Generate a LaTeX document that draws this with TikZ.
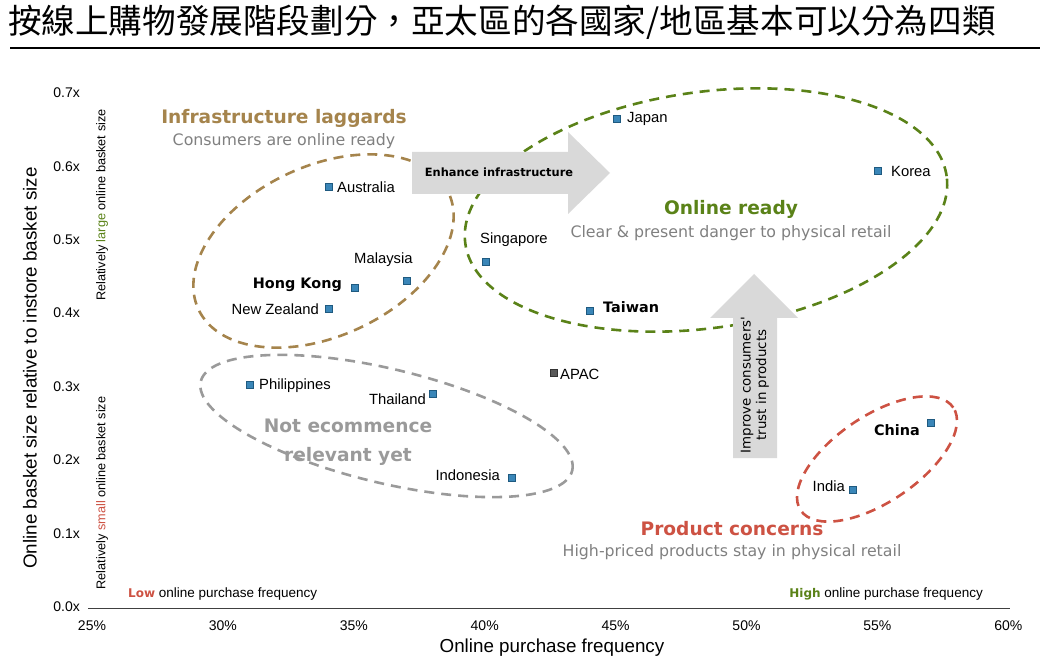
\documentclass[tikz,border=0pt]{standalone}
\usepackage{fontspec}
\setmainfont{Liberation Sans}
\newfontfamily\tah{DejaVu Sans}
\newfontfamily\cjk{Noto Sans CJK TC}
\definecolor{brownc}{HTML}{A5844C}
\definecolor{greenc}{HTML}{5A8218}
\definecolor{greyc}{HTML}{9A9A9A}
\definecolor{redc}{HTML}{CD5243}
\definecolor{subc}{HTML}{808080}
\definecolor{mkc}{HTML}{3A86B8}
\definecolor{mkb}{HTML}{1F5A80}
\definecolor{arrc}{HTML}{D9D9D9}
\begin{document}
\begin{tikzpicture}[x=1pt,y=-1pt,
  mk/.style={rectangle,minimum size=7.5pt,inner sep=0pt,fill=mkc,draw=mkb,line width=0.6pt},
  lab/.style={inner sep=0pt,font=\fontsize{14.8}{17}\selectfont},
  blab/.style={inner sep=0pt,font=\tah\bfseries\fontsize{14.4}{17}\selectfont},
  tick/.style={inner sep=0pt,font=\fontsize{14}{16}\selectfont},
  grp/.style={inner sep=0pt,font=\tah\bfseries\fontsize{18.6}{29}\selectfont,align=center},
  sub/.style={inner sep=0pt,font=\tah\fontsize{15.8}{18}\selectfont,text=subc},
  ell/.style={dash pattern=on 10pt off 7pt,line width=2.6pt}
]
\useasboundingbox (0,0) rectangle (1045,660);
% title
\node[anchor=west,inner sep=0pt,font=\cjk\fontsize{33.6}{38}\selectfont] (title) at (8,22) {按線上購物發展階段劃分，亞太區的各國家/地區基本可以分為四類};
\draw[line width=2.5pt] (10,48) -- (1040,48);

% axes
\draw[line width=1pt,black!75] (88,608) -- (1010,608);
\foreach \v/\yy in {0.0/607,0.1/534,0.2/460,0.3/387,0.4/313,0.5/240,0.6/167,0.7/93}{
  \node[tick,anchor=east] (yt\v) at (80,\yy) {\v x};
}
\foreach \p [count=\i from 0] in {25,30,35,40,45,50,55,60}{
  \node[tick] (xt\p) at ({92+\i*130.9},626) {\p\%};
}
\node[inner sep=0pt,font=\fontsize{18.8}{21}\selectfont] (xlab) at (552,648) {Online purchase frequency};
\node[inner sep=0pt,rotate=90,font=\fontsize{18.8}{21}\selectfont] (ylab) at (30,368) {Online basket size relative to instore basket size};
\node[inner sep=0pt,rotate=90,font=\fontsize{12.7}{14}\selectfont] (large) at (102,205) {Relatively \textcolor{greenc}{large} online basket size};
\node[inner sep=0pt,rotate=90,font=\fontsize{12.7}{14}\selectfont] (small) at (102,493) {Relatively \textcolor{redc}{small} online basket size};
\node[inner sep=0pt,anchor=west,font=\fontsize{13.5}{15}\selectfont] (low) at (128,594) {\textcolor{redc}{\tah\bfseries\fontsize{12}{14}\selectfont Low} online purchase frequency};
\node[inner sep=0pt,anchor=east,font=\fontsize{13.5}{15}\selectfont] (high) at (983,594) {\textcolor{greenc}{\tah\bfseries\fontsize{12}{14}\selectfont High} online purchase frequency};

% ellipses
\draw[ell,brownc,shift={(323.5,251)},rotate=25] (0,0) ellipse [x radius=138pt,y radius=85pt];
\draw[ell,greenc,shift={(706,210)},rotate=8] (0,0) ellipse [x radius=243pt,y radius=118pt];
\draw[ell,greyc,shift={(386.5,426)},rotate=-13.5] (0,0) ellipse [x radius=191pt,y radius=57pt];
\draw[ell,redc,shift={(877,459)},rotate=34] (0,0) ellipse [x radius=92pt,y radius=43pt];

% arrows
\fill[arrc] (412,152) -- (568,152) -- (568,132) -- (610,173) -- (568,214) -- (568,194) -- (412,194) -- cycle;
\node[inner sep=0pt,font=\tah\bfseries\fontsize{11.4}{15}\selectfont] (enh) at (499,172) {Enhance infrastructure};
\fill[arrc] (733,458) -- (733,318) -- (710,318) -- (754,274) -- (798,318) -- (777,318) -- (777,458) -- cycle;
\node[inner sep=0pt,rotate=90,align=center,font=\tah\fontsize{13.4}{15.5}\selectfont] (imp) at (755,385) {Improve consumers'\\trust in products};

% group labels
\node[grp,text=brownc] (g1) at (284,118) {Infrastructure laggards};
\node[sub] (s1) at (284,141) {Consumers are online ready};
\node[grp,text=greenc] (g2) at (731,209) {Online ready};
\node[sub] (s2) at (731,233) {Clear \& present danger to physical retail};
\node[grp,text=greyc] (g3) at (348,442) {Not ecommence\\relevant yet};
\node[grp,text=redc] (g4) at (732,529) {Product concerns};
\node[sub] (s4) at (732,552) {High-priced products stay in physical retail};

% markers
\node[mk] (jp) at (617,119) {};
\node[mk] (kr) at (878,171) {};
\node[mk] (au) at (329,187) {};
\node[mk] (sg) at (486,262) {};
\node[mk] (my) at (407,281) {};
\node[mk] (hk) at (355,288) {};
\node[mk] (nz) at (329,309) {};
\node[mk] (tw) at (590,311) {};
\node[mk,fill=black!65,draw=black!80] (ap) at (554,373) {};
\node[mk] (ph) at (250,385) {};
\node[mk] (th) at (433,394) {};
\node[mk] (id) at (512,478) {};
\node[mk] (cn) at (931,423) {};
\node[mk] (in) at (853,490) {};

% labels
\node[lab,anchor=west] (ljp) at (627,119) {Japan};
\node[lab,anchor=west] (lkr) at (891,171) {Korea};
\node[lab,anchor=west] (lau) at (337,187) {Australia};
\node[lab,anchor=west] (lsg) at (480,240) {Singapore};
\node[lab,anchor=west] (lmy) at (354,260) {Malaysia};
\node[blab,anchor=east] (lhk) at (342,285) {Hong Kong};
\node[lab,anchor=east] (lnz) at (319,309) {New Zealand};
\node[blab,anchor=west] (ltw) at (603,307) {Taiwan};
\node[lab,anchor=west] (lap) at (560,374) {APAC};
\node[lab,anchor=west] (lph) at (259,386) {Philippines};
\node[lab,anchor=east] (lth) at (426,399) {Thailand};
\node[lab,anchor=east] (lid) at (500,475) {Indonesia};
\node[blab,anchor=east] (lcn) at (920,430) {China};
\node[lab,anchor=east] (lin) at (845,486) {India};
\end{tikzpicture}
\end{document}
